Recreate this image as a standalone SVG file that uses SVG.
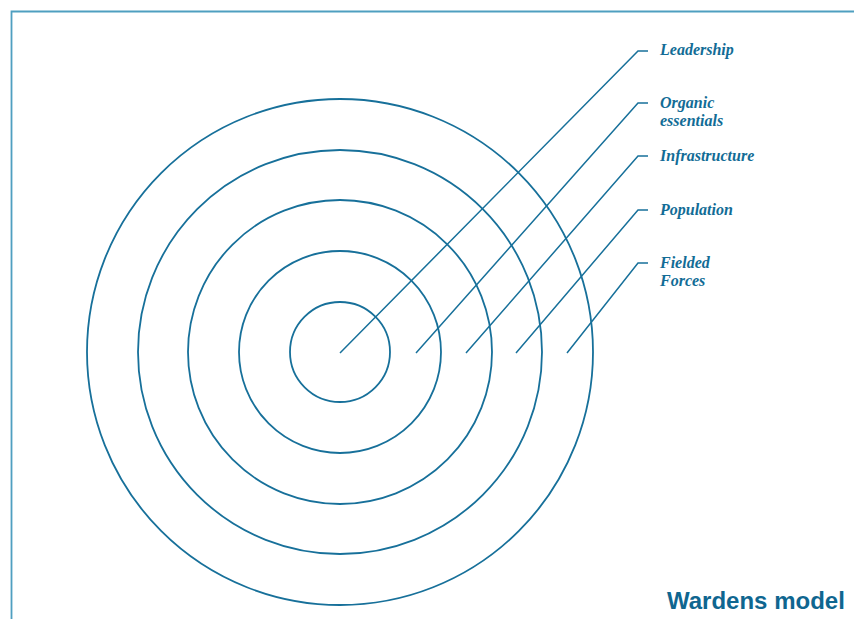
<svg xmlns="http://www.w3.org/2000/svg" width="854" height="619" viewBox="0 0 854 619">
<style>
.ring{fill:none;stroke:#17709a;stroke-width:1.8}
.con{fill:none;stroke:#17709a;stroke-width:1.5}
.lbl{font-family:"Liberation Serif","Times New Roman",serif;font-weight:bold;font-style:italic;font-size:16px;fill:#126c96}
.title{font-family:"Liberation Sans",Arial,sans-serif;font-weight:bold;font-size:24px;fill:#0f6690}
</style>
<rect width="854" height="619" fill="#ffffff"/>
<path d="M11.5,619 V11.5 H854" fill="none" stroke="#4f9fc0" stroke-width="1.8"/>
<g id="rings">
<circle id="fielded-forces" class="ring" cx="340" cy="352" r="253"/>
<circle id="population" class="ring" cx="340" cy="352" r="202"/>
<circle id="infrastructure" class="ring" cx="340" cy="352" r="152"/>
<circle id="organic-essentials" class="ring" cx="340" cy="352" r="101"/>
<circle id="leadership" class="ring" cx="340" cy="352" r="50"/>
</g>
<g id="connectors">
<polyline class="con" points="340,353 638,51 648,51"/>
<polyline class="con" points="416,353 638,103 648,103"/>
<polyline class="con" points="466,353 638,156 648,156"/>
<polyline class="con" points="516,353 638,210 648,210"/>
<polyline class="con" points="567,353 638,263 648,263"/>
</g>
<g id="labels">
<text class="lbl" x="660" y="55">Leadership</text>
<text class="lbl" x="660" y="108">Organic</text>
<text class="lbl" x="660" y="126">essentials</text>
<text class="lbl" x="660" y="161">Infrastructure</text>
<text class="lbl" x="660" y="215">Population</text>
<text class="lbl" x="660" y="268">Fielded</text>
<text class="lbl" x="660" y="286">Forces</text>
</g>
<text id="title" class="title" x="667" y="609">Wardens model</text>
</svg>
